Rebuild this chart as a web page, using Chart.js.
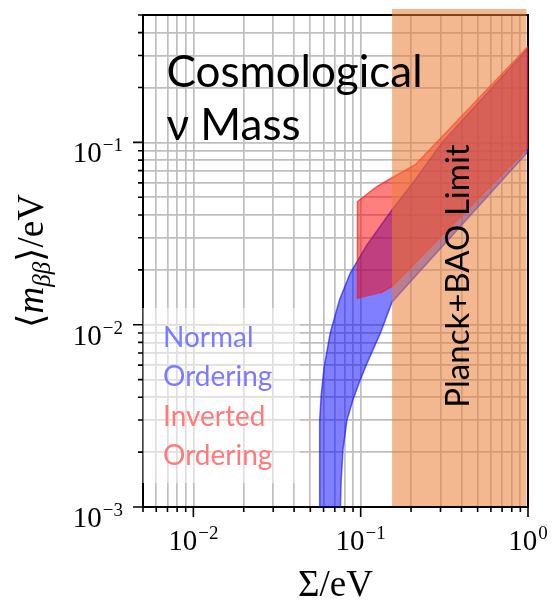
<!DOCTYPE html>
<html>
<head>
<meta charset="utf-8">
<script src="https://cdn.jsdelivr.net/npm/chart.js@4.4.1/dist/chart.umd.min.js"></script>
<style>
  html, body { margin: 0; padding: 0; background: #fff; }
</style>
</head>
<body>
<canvas id="massChart" width="553" height="603"></canvas>
<script>
// band outlines: sum of neutrino masses (eV) -> effective Majorana mass (eV)
const noSigma = [0.0567, 0.0569, 0.0581, 0.0605, 0.0657, 0.0747, 0.0865, 0.109, 0.154, 0.212, 0.306, 0.452, 1.0,
                 1.0, 0.154, 0.131, 0.1067, 0.0968, 0.0898, 0.0827, 0.0783, 0.0764, 0.0754];
const noMass  = [0.0009, 0.00299, 0.00411, 0.00587, 0.00897, 0.01368, 0.01914, 0.0274, 0.0427, 0.0624, 0.0996, 0.1476, 0.327,
                 0.0889, 0.01333, 0.00897, 0.00587, 0.00467, 0.00386, 0.00299, 0.00205, 0.0014, 0.0009];

const ioSigma = [0.0957, 0.0957, 0.125, 0.154, 0.212, 1.0, 1.0, 0.154, 0.131];
const ioMass  = [0.01384, 0.0474, 0.0573, 0.064, 0.0754, 0.336, 0.0935, 0.0162, 0.0149];

const planckLimit = 0.154;

const xTickValues = [0.005, 0.006, 0.007, 0.008, 0.009,
                     0.01, 0.02, 0.03, 0.04, 0.05, 0.06, 0.07, 0.08, 0.09,
                     0.1, 0.2, 0.3, 0.4, 0.5, 0.6, 0.7, 0.8, 0.9, 1];
const yTickValues = [0.001, 0.002, 0.003, 0.004, 0.005, 0.006, 0.007, 0.008, 0.009,
                     0.01, 0.02, 0.03, 0.04, 0.05, 0.06, 0.07, 0.08, 0.09,
                     0.1, 0.2, 0.3, 0.4, 0.5];
const xTickLabels = { 0.01: '−2', 0.1: '−1', 1: '0' };
const yTickLabels = { 0.001: '−3', 0.01: '−2', 0.1: '−1' };

const serif = "'Liberation Serif', 'DejaVu Serif', serif";
const sans = "Lato, 'Open Sans', 'Noto Sans', sans-serif";

function isDecade(v) {
    const l = Math.log10(v);
    return Math.abs(l - Math.round(l)) < 1e-6;
}

function toPoints(xs, ys) {
    return xs.map((x, i) => ({ x: x, y: ys[i] }));
}

// "10" plus raised exponent
function drawPow(ctx, exp, x, y, align) {
    ctx.font = '29px ' + serif;
    const wb = ctx.measureText('10').width;
    ctx.font = '19px ' + serif;
    const we = ctx.measureText(exp).width;
    const w = wb + 1 + we;
    const left = align === 'right' ? x - w : x - w / 2;
    ctx.textAlign = 'left';
    ctx.textBaseline = 'alphabetic';
    ctx.font = '29px ' + serif;
    ctx.fillText('10', left, y);
    ctx.font = '19px ' + serif;
    ctx.fillText(exp, left + wb + 1, y - 11);
}

const framePlugin = {
    id: 'frame',
    beforeDatasetsDraw(chart) {
        const { ctx, chartArea: a } = chart;
        ctx.save();
        ctx.strokeStyle = '#000';
        ctx.lineWidth = 2;
        ctx.beginPath();
        ctx.moveTo(a.left, a.top);
        ctx.lineTo(a.right, a.top);
        ctx.lineTo(a.right, a.bottom);
        ctx.stroke();
        ctx.restore();
    },
    afterDatasetsDraw(chart) {
        const { ctx, chartArea: a, scales: { x, y } } = chart;
        ctx.save();

        // Planck + BAO excluded region
        const x0 = x.getPixelForValue(planckLimit);
        ctx.fillStyle = 'rgba(235,125,55,0.55)';
        ctx.fillRect(x0, a.top - 6, a.right - 1.5 - x0, a.bottom - 1 - (a.top - 6));

        // faded box behind the ordering labels
        ctx.fillStyle = 'rgba(255,255,255,0.5)';
        ctx.fillRect(a.left - 0.5, a.bottom - 199, 157.5, 175);

        ctx.textAlign = 'left';
        ctx.textBaseline = 'alphabetic';
        ctx.fillStyle = '#000';
        ctx.font = '44px ' + sans;
        ctx.fillText('Cosmological', a.left + 23.5, a.top + 71.5);
        ctx.fillText('ν Mass', a.left + 23.5, a.top + 124.5);

        ctx.font = '28px ' + sans;
        ctx.fillStyle = '#7b7bff';
        ctx.fillText('Normal', a.left + 20, a.bottom - 160.5);
        ctx.fillText('Ordering', a.left + 20, a.bottom - 121);
        ctx.fillStyle = '#ff7b7b';
        ctx.fillText('Inverted', a.left + 20, a.bottom - 81.5);
        ctx.fillText('Ordering', a.left + 20, a.bottom - 42);

        // vertical limit label
        ctx.save();
        ctx.translate(a.right - 59.5, (a.top + a.bottom) / 2 + 15);
        ctx.rotate(-Math.PI / 2);
        ctx.textAlign = 'center';
        ctx.fillStyle = '#000';
        ctx.font = '33px ' + sans;
        ctx.fillText('Planck+BAO Limit', 0, 0);
        ctx.restore();

        // tick marks
        ctx.strokeStyle = '#000';
        ctx.lineWidth = 1.6;
        ctx.beginPath();
        xTickValues.forEach(v => {
            const px = x.getPixelForValue(v);
            ctx.moveTo(px, a.bottom);
            ctx.lineTo(px, a.bottom + (isDecade(v) ? 10 : 5));
        });
        yTickValues.forEach(v => {
            const py = y.getPixelForValue(v);
            ctx.moveTo(a.left, py);
            ctx.lineTo(a.left - (isDecade(v) ? 10 : 5), py);
        });
        ctx.stroke();

        // tick labels
        ctx.fillStyle = '#000';
        Object.keys(xTickLabels).forEach(k => {
            drawPow(ctx, xTickLabels[k], x.getPixelForValue(Number(k)), a.bottom + 43, 'center');
        });
        Object.keys(yTickLabels).forEach(k => {
            drawPow(ctx, yTickLabels[k], a.left - 20, y.getPixelForValue(Number(k)) + 20, 'right');
        });

        // axis titles
        ctx.textAlign = 'center';
        ctx.font = '37px ' + serif;
        ctx.fillText('Σ/eV', (a.left + a.right) / 2, a.bottom + 89);

        ctx.save();
        ctx.translate(43, (a.top + a.bottom) / 2);
        ctx.rotate(-Math.PI / 2);
        const parts = [
            { t: '⟨', f: '37px ' + serif, dy: 0 },
            { t: 'm', f: 'italic 37px ' + serif, dy: 0 },
            { t: 'ββ', f: 'italic 25px ' + serif, dy: 7 },
            { t: '⟩/eV', f: '37px ' + serif, dy: 0 }
        ];
        let total = 0;
        parts.forEach(p => { ctx.font = p.f; p.w = ctx.measureText(p.t).width; total += p.w; });
        let cx = -total / 2;
        ctx.textAlign = 'left';
        parts.forEach(p => {
            ctx.font = p.f;
            ctx.fillText(p.t, cx, p.dy);
            cx += p.w;
        });
        ctx.restore();

        ctx.restore();
    }
};

const grid = { color: '#bfbfbf', lineWidth: 1.7, drawTicks: false };

const config = {
    type: 'scatter',
    data: {
        datasets: [
            {
                label: 'Inverted Ordering',
                data: toPoints(ioSigma, ioMass),
                showLine: true,
                fill: 'shape',
                backgroundColor: 'rgba(255,0,0,0.5)',
                borderColor: 'rgba(255,20,20,0.65)',
                borderWidth: 1.5,
                pointRadius: 0,
                order: 1
            },
            {
                label: 'Normal Ordering',
                data: toPoints(noSigma, noMass),
                showLine: true,
                fill: 'shape',
                backgroundColor: 'rgba(0,0,255,0.5)',
                borderColor: 'rgba(20,20,255,0.65)',
                borderWidth: 1.5,
                pointRadius: 0,
                order: 2
            }
        ]
    },
    options: {
        responsive: false,
        animation: false,
        layout: { padding: { top: 15, right: 25, left: 0, bottom: 0 } },
        plugins: { legend: { display: false }, tooltip: { enabled: false } },
        scales: {
            x: {
                type: 'logarithmic',
                min: 0.005,
                max: 1,
                grid: grid,
                border: { color: '#000', width: 2 },
                ticks: { display: false },
                afterBuildTicks: s => { s.ticks = xTickValues.map(v => ({ value: v, major: isDecade(v) })); },
                afterFit: s => { s.height = 96; }
            },
            y: {
                type: 'logarithmic',
                min: 0.001,
                max: 0.5,
                grid: grid,
                border: { color: '#000', width: 2 },
                ticks: { display: false },
                afterBuildTicks: s => { s.ticks = yTickValues.map(v => ({ value: v, major: isDecade(v) })); },
                afterFit: s => { s.width = 143; }
            }
        }
    },
    plugins: [framePlugin]
};

const massChart = new Chart(document.getElementById('massChart'), config);
</script>
</body>
</html>
